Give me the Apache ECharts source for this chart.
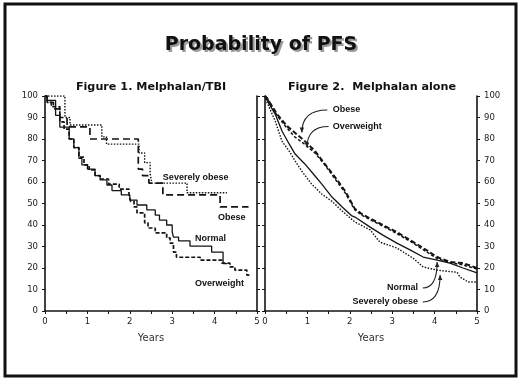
<!DOCTYPE html>
<html>
<head>
<meta charset="utf-8">
<script src="https://cdn.jsdelivr.net/npm/echarts@6/dist/echarts.min.js"></script>
<style>
  html, body { margin: 0; padding: 0; background: #fff; }
  #main { width: 520px; height: 381px; }
</style>
</head>
<body>
<div id="main"></div>
<script>
// ---- data (years, % progression-free) ----
const years = [0, 1, 2, 3, 4, 5];
const pctTicks = [0, 10, 20, 30, 40, 50, 60, 70, 80, 90, 100];

// Figure 1. Melphalan/TBI
const tbiNormal = [[0, 100], [0.05, 98], [0.25, 91], [0.35, 85.5], [0.57, 80], [0.68, 76], [0.8, 71], [0.87, 68],
  [1.0, 66], [1.18, 63], [1.3, 61], [1.46, 58.6], [1.58, 56], [1.8, 54], [2.0, 51.6], [2.17, 49.3], [2.4, 47],
  [2.6, 44.6], [2.7, 42.3], [2.87, 40], [3.0, 36.7], [3.03, 34.4], [3.15, 32.6], [3.42, 30.2], [3.93, 27.4],
  [4.2, 22], [4.3, 22]];
const tbiOverweight = [[0, 100], [0.05, 97], [0.15, 95], [0.35, 88], [0.45, 84.6], [0.57, 80], [0.68, 76],
  [0.8, 71.6], [0.92, 68], [1.04, 65.6], [1.18, 63], [1.3, 61.4], [1.5, 59], [1.75, 56.7], [1.98, 54.4],
  [2.02, 51], [2.1, 48.4], [2.17, 45.6], [2.35, 41], [2.43, 38.6], [2.6, 36.3], [2.87, 34], [2.95, 31.6],
  [3.03, 27.4], [3.1, 25], [3.66, 23.7], [4.17, 22.3], [4.36, 20.5], [4.48, 19], [4.76, 16.7], [4.87, 16.7]];
const tbiObese = [[0, 100], [0.05, 97], [0.2, 94], [0.35, 90], [0.52, 85.6], [1.06, 80], [2.2, 66], [2.3, 63],
  [2.45, 59.5], [2.78, 54], [4.13, 48.4], [4.8, 48.4]];
const tbiSevere = [[0, 100], [0.47, 90], [0.59, 86.5], [1.34, 81], [1.45, 77.6], [2.22, 73.5], [2.35, 69],
  [2.48, 64], [2.52, 59.5], [3.35, 55], [4.29, 55]];

// Figure 2. Melphalan alone
const melObese = [[0, 100], [0.05, 99], [0.28, 91.6], [0.52, 86], [0.7, 83], [0.94, 79], [1.18, 74.4],
  [1.41, 68.4], [1.65, 62.3], [1.89, 55.8], [2.12, 47.5], [2.29, 45], [2.48, 43], [2.78, 40], [3.11, 36.7],
  [3.42, 33], [3.73, 29.3], [4.06, 25.1], [4.36, 22.8], [4.67, 22.3], [5.0, 20]];
const melOverweight = [[0, 100], [0.05, 99], [0.28, 91], [0.52, 85], [0.7, 81], [0.94, 77.5], [1.18, 73.5],
  [1.41, 68], [1.65, 61.5], [1.89, 55], [2.12, 47], [2.29, 44.5], [2.48, 42.5], [2.78, 39.5], [3.11, 36],
  [3.42, 32.5], [3.73, 28.5], [4.06, 24.4], [4.36, 22.5], [4.67, 21.4], [5.0, 19.5]];
const melNormal = [[0, 100], [0.05, 98], [0.24, 91.6], [0.4, 83.7], [0.57, 77.7], [0.71, 73], [0.94, 68.4],
  [1.18, 62.8], [1.34, 59], [1.58, 53], [1.82, 48.4], [2.05, 44.2], [2.12, 43.7], [2.48, 39], [2.78, 35.3],
  [3.11, 31.6], [3.42, 28.4], [3.73, 25.1], [4.06, 23.7], [4.36, 22.3], [4.67, 20], [5.0, 17.7]];
const melSevere = [[0, 100], [0.05, 97], [0.24, 88.4], [0.4, 79], [0.57, 74.4], [0.71, 69.8], [0.87, 65],
  [1.1, 59], [1.34, 54.4], [1.58, 51], [1.82, 46.5], [2.12, 41.4], [2.48, 37.7], [2.71, 32], [3.11, 29.3],
  [3.49, 24.6], [3.73, 20.5], [4.06, 19], [4.53, 18], [4.6, 15.8], [4.79, 13.5], [5.0, 13.5]];

// curve labels: [text, grid, x(years), y(%), align]
const curveLabels = [
  ['Severely obese', 0, 2.78, 62.3, 'left'],
  ['Obese', 0, 4.08, 43.7, 'left'],
  ['Normal', 0, 3.54, 33.5, 'left'],
  ['Overweight', 0, 3.54, 12.6, 'left'],
  ['Obese', 1, 1.6, 93.5, 'left'],
  ['Overweight', 1, 1.6, 85.6, 'left'],
  ['Normal', 1, 3.61, 10.7, 'right'],
  ['Severely obese', 1, 3.61, 4.2, 'right']
];
// arrows: [grid, from, to]
const arrows = [
  [1, [1.47, 93.5], [0.87, 83]],
  [1, [1.5, 85.8], [0.99, 76]],
  [1, [3.72, 10.7], [4.06, 22.8]],
  [1, [3.72, 4.2], [4.13, 16.7]]
];

const ink = '#141414';
const tickFont = 'DejaVu Sans';

function xAxisFor(gi) {
  return {
    gridIndex: gi, type: 'value', min: 0, max: 5, interval: 1,
    name: 'Years', nameLocation: 'middle', nameGap: 22,
    nameTextStyle: { fontFamily: tickFont, fontSize: 10, color: '#333' },
    axisLine: { lineStyle: { color: ink, width: 1.6 } },
    axisTick: { show: true, length: 3, lineStyle: { color: ink } },
    minorTick: { show: true, splitNumber: 2, length: 3, lineStyle: { color: ink } },
    axisLabel: { fontFamily: tickFont, fontSize: 8.5, color: '#222', margin: 6,
      formatter: v => years.includes(v) ? String(v) : '' },
    splitLine: { show: false }
  };
}
function yAxisFor(gi, pos, labels) {
  return {
    gridIndex: gi, type: 'value', position: pos, min: 0, max: 100, interval: 10,
    axisLine: { show: true, onZero: false, lineStyle: { color: ink, width: 1.6 } },
    axisTick: { show: true, length: 3, lineStyle: { color: ink } },
    axisLabel: { show: labels, fontFamily: tickFont, fontSize: 8.5, color: '#222', margin: 7,
      formatter: v => pctTicks.includes(v) ? String(v) : '' },
    splitLine: { show: false }
  };
}
function curve(name, gi, data, dash, width, step) {
  return {
    name: name, type: 'line', xAxisIndex: gi, yAxisIndex: gi * 2,
    data: data, step: step, showSymbol: false, symbol: 'none',
    lineStyle: { color: ink, width: width, type: dash },
    z: 3
  };
}

const chart = echarts.init(document.getElementById('main'));
chart.setOption({
  animation: false,
  backgroundColor: '#fff',
  grid: [
    { left: 45, right: 263, top: 96, bottom: 70 },
    { left: 265, right: 43, top: 96, bottom: 70 }
  ],
  xAxis: [xAxisFor(0), xAxisFor(1)],
  yAxis: [yAxisFor(0, 'left', true), yAxisFor(0, 'right', false),
          yAxisFor(1, 'left', false), yAxisFor(1, 'right', true)],
  series: [
    curve('Normal', 0, tbiNormal, 'solid', 1.3, 'end'),
    curve('Overweight', 0, tbiOverweight, [4, 2], 1.7, 'end'),
    curve('Obese', 0, tbiObese, [7, 4], 1.7, 'end'),
    curve('Severely obese', 0, tbiSevere, [1.5, 1.5], 1.4, 'end'),
    curve('Normal', 1, melNormal, 'solid', 1.3, false),
    curve('Overweight', 1, melOverweight, [3, 2], 1.5, false),
    curve('Obese', 1, melObese, [5, 2.5], 2, false),
    curve('Severely obese', 1, melSevere, [1.5, 1.5], 1.4, false)
  ]
});

// titles, frame and annotations
const titleFont = 'bold 19px "DejaVu Sans"';
const subFont = 'bold 11.2px "DejaVu Sans"';
const gfx = [
  { type: 'rect', shape: { x: 5, y: 4, width: 511, height: 372 },
    style: { fill: 'none', stroke: '#111', lineWidth: 3 }, silent: true },
  { type: 'text', x: 263, y: 47, style: { text: 'Probability of PFS', align: 'center', verticalAlign: 'middle',
      font: titleFont, fill: '#9a9a9a' } },
  { type: 'text', x: 261, y: 45, style: { text: 'Probability of PFS', align: 'center', verticalAlign: 'middle',
      font: titleFont, fill: '#111' } },
  { type: 'text', x: 151, y: 87, style: { text: 'Figure 1. Melphalan/TBI', align: 'center', verticalAlign: 'middle',
      font: subFont, fill: '#111' } },
  { type: 'text', x: 372, y: 87, style: { text: 'Figure 2.  Melphalan alone', align: 'center', verticalAlign: 'middle',
      font: subFont, fill: '#111' } }
];

curveLabels.forEach(([text, gi, x, y, align]) => {
  const p = chart.convertToPixel({ gridIndex: gi }, [x, y]);
  gfx.push({ type: 'text', x: p[0], y: p[1], z: 10,
    style: { text: text, align: align, verticalAlign: 'middle',
      font: 'bold 9px "Liberation Sans Narrow", "Liberation Sans", sans-serif', fill: '#111' } });
});

arrows.forEach(([gi, from, to]) => {
  const a = chart.convertToPixel({ gridIndex: gi }, from);
  const b = chart.convertToPixel({ gridIndex: gi }, to);
  const c = [b[0], a[1]];
  gfx.push({ type: 'bezierCurve', z: 10,
    shape: { x1: a[0], y1: a[1], x2: b[0], y2: b[1], cpx1: c[0], cpy1: c[1] },
    style: { stroke: '#222', lineWidth: 1.1, fill: 'none' } });
  const dx = b[0] - c[0], dy = b[1] - c[1];
  const len = Math.hypot(dx, dy) || 1;
  const ux = dx / len, uy = dy / len;
  const s = 5;
  gfx.push({ type: 'polygon', z: 10,
    shape: { points: [[b[0], b[1]],
      [b[0] - ux * s - uy * s * 0.45, b[1] - uy * s + ux * s * 0.45],
      [b[0] - ux * s + uy * s * 0.45, b[1] - uy * s - ux * s * 0.45]] },
    style: { fill: '#222' } });
});

chart.setOption({ graphic: gfx });
</script>
</body>
</html>
